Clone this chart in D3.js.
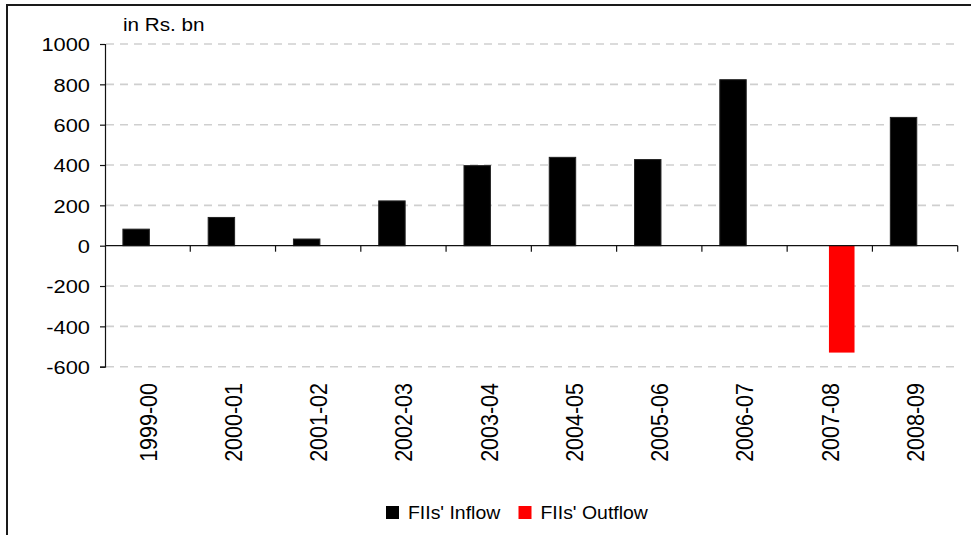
<!DOCTYPE html>
<html>
<head>
<meta charset="utf-8">
<script src="https://cdn.jsdelivr.net/npm/d3@7"></script>
<style>
  html, body { margin: 0; padding: 0; background: #fff; }
  svg text { font-family: "Liberation Sans", Arial, sans-serif; fill: #000; }
</style>
</head>
<body>
<svg id="chart" width="971" height="535"></svg>
<script>
// FII flows into Indian markets, in Rs. bn
const years = ["1999-00", "2000-01", "2001-02", "2002-03", "2003-04",
               "2004-05", "2005-06", "2006-07", "2007-08", "2008-09"];
const inflow  = [82, 140, 33, 222, 397, 438, 427, 823, null, 636];
const outflow = [null, null, null, null, null, null, null, null, -530, null];
const yTicks = [-600, -400, -200, 0, 200, 400, 600, 800, 1000];
const seriesNames = ["FIIs' Inflow", "FIIs' Outflow"];
const seriesColors = ["#000000", "#ff0000"];
const unitLabel = "in Rs. bn";

const svg = d3.select("#chart");
const W = 971, H = 535;
const plot = { left: 105, right: 957.7, top: 44, bottom: 366.7 };
const stretch = 1.15; // text is drawn slightly wide

// outer frame
svg.append("rect")
  .attr("x", 7).attr("y", 5)
  .attr("width", W + 10).attr("height", H + 10)
  .attr("fill", "#fff").attr("stroke", "#1a1a1a").attr("stroke-width", 2);

const x = d3.scaleBand().domain(years).range([plot.left, plot.right]).padding(0);
const y = d3.scaleLinear().domain([-600, 1000]).range([plot.bottom, plot.top]);
const bw = x.bandwidth();

// dashed horizontal gridlines
svg.append("g").selectAll("line")
  .data(yTicks.filter(t => t !== 0))
  .join("line")
  .attr("x1", plot.left + 1).attr("x2", plot.right)
  .attr("y1", d => y(d)).attr("y2", d => y(d))
  .attr("stroke", "#cfcfcf").attr("stroke-width", 1.6)
  .attr("stroke-dasharray", "8,6");

// y axis (plain hyphen for negative numbers)
const yAxis = svg.append("g")
  .attr("transform", `translate(${plot.left},0)`)
  .call(d3.axisLeft(y).tickValues(yTicks).tickSize(5).tickPadding(0).tickFormat(d => String(d)));
yAxis.select(".domain").attr("stroke", "#111").attr("stroke-width", 1.2);
yAxis.selectAll(".tick line").attr("stroke", "#111").attr("stroke-width", 1.2);
yAxis.selectAll(".tick text")
  .attr("x", null).attr("dy", null)
  .attr("font-size", 19)
  .attr("text-anchor", "end")
  .attr("dominant-baseline", "central")
  .attr("transform", `translate(-15,0) scale(${stretch},1)`);

// bars: inflow sits left of the band centre, outflow to the right
const barOffset = [0.21 * bw, 0.49 * bw];
const barWidth = [0.31 * bw, 0.30 * bw];
[inflow, outflow].forEach((vals, si) => {
  svg.append("g").selectAll("rect")
    .data(years.map((yr, i) => ({ yr, v: vals[i] })).filter(d => d.v !== null))
    .join("rect")
    .attr("x", d => x(d.yr) + barOffset[si])
    .attr("width", barWidth[si])
    .attr("y", d => y(Math.max(0, d.v)))
    .attr("height", d => Math.abs(y(d.v) - y(0)))
    .attr("fill", seriesColors[si])
    .attr("stroke", si === 0 ? "#222" : "none")
    .attr("stroke-width", 1);
});

// x axis along zero with ticks at band boundaries
const xb = svg.append("g");
xb.append("line")
  .attr("x1", plot.left).attr("x2", plot.right)
  .attr("y1", y(0)).attr("y2", y(0))
  .attr("stroke", "#111").attr("stroke-width", 1.2);
xb.selectAll("line.tk")
  .data(years.slice(1).map(yr => x(yr)).concat([plot.right]))
  .join("line").attr("class", "tk")
  .attr("x1", d => d).attr("x2", d => d)
  .attr("y1", y(0)).attr("y2", y(0) + 6)
  .attr("stroke", "#111").attr("stroke-width", 1.2);

// rotated category labels below the plot
svg.append("g").selectAll("text")
  .data(years)
  .join("text")
  .attr("transform", d => `translate(${x(d) + bw / 2},383) rotate(-90) scale(1,${stretch})`)
  .attr("text-anchor", "end")
  .attr("dy", "0.36em")
  .attr("font-size", 21.5)
  .text(d => d);

// unit label
svg.append("text")
  .attr("transform", `translate(123,31) scale(${stretch},1)`)
  .attr("font-size", 18)
  .text(unitLabel);

// legend
const legendX = [386, 518.5];
const lg = svg.append("g");
seriesNames.forEach((name, i) => {
  lg.append("rect")
    .attr("x", legendX[i]).attr("y", 506)
    .attr("width", 13).attr("height", 13)
    .attr("fill", seriesColors[i]);
  lg.append("text")
    .attr("transform", `translate(${legendX[i] + 22},518.5) scale(1.08,1)`)
    .attr("font-size", 18)
    .text(name);
});
</script>
</body>
</html>
